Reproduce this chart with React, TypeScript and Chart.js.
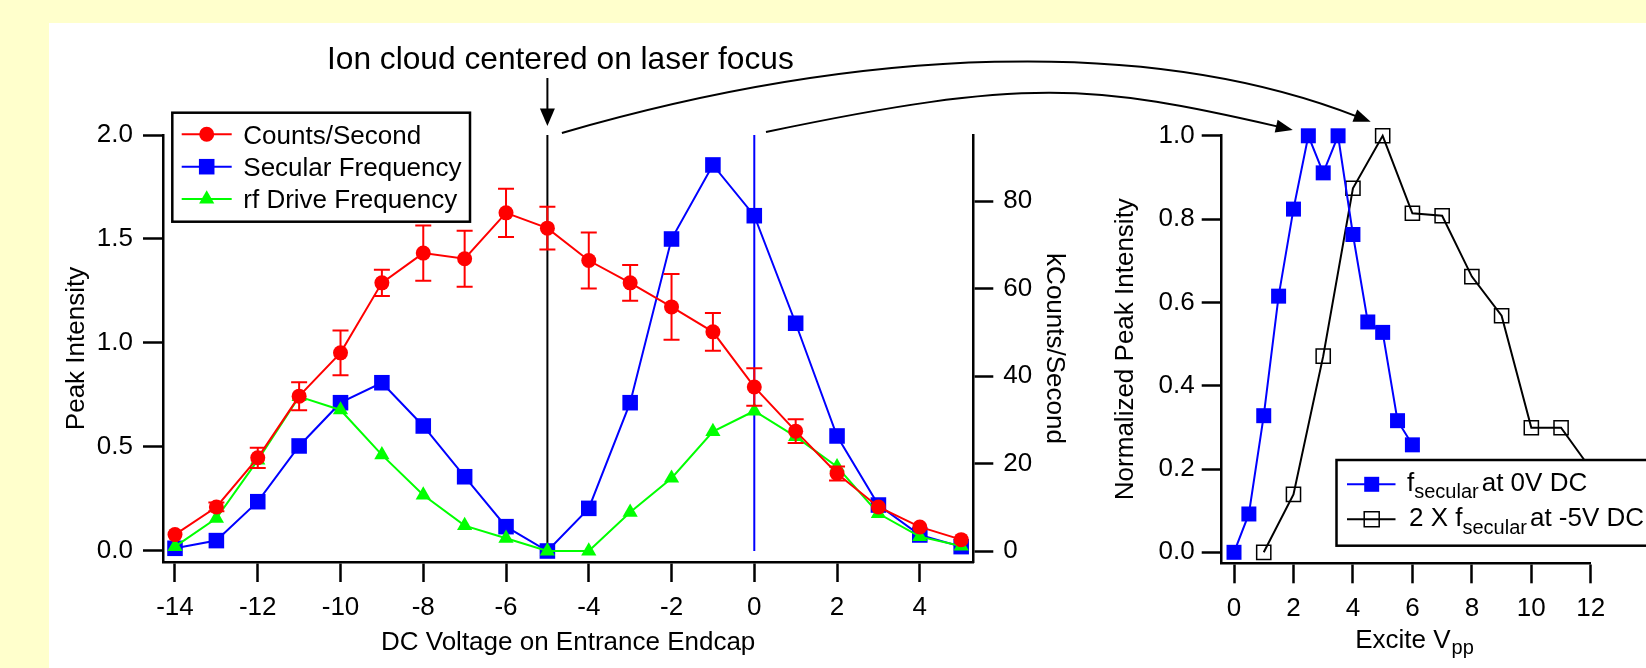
import React, { useEffect, useRef } from 'react';
import { Chart, registerables } from 'chart.js';

Chart.register(...registerables);

// ---------------- data: left panel ----------------
const VOLTAGE = [-14, -13, -12, -11, -10, -9, -8, -7, -6, -5, -4, -3, -2, -1, 0, 1, 2, 3, 4, 5];
const COUNTS_K = [3.75, 10.06, 21.3, 35.4, 45.3, 61.3, 68.1, 66.8, 77.3, 73.8, 66.4, 61.3, 55.8, 50.1, 37.5, 27.4, 17.7, 10.06, 5.5, 2.6];
const COUNTS_ERR = [0, 1.0, 2.3, 3.2, 5.1, 3.0, 6.3, 6.4, 5.5, 4.9, 6.4, 4.1, 7.5, 4.3, 4.3, 2.7, 1.6, 0, 0, 0];
const SECULAR = [0.013, 0.05, 0.237, 0.505, 0.713, 0.809, 0.601, 0.357, 0.117, 0.0, 0.205, 0.713, 1.5, 1.856, 1.612, 1.095, 0.553, 0.221, 0.077, 0.021];
const RF_DRIVE = [0.021, 0.157, 0.437, 0.742, 0.678, 0.462, 0.269, 0.122, 0.061, 0.0, 0.0, 0.186, 0.35, 0.574, 0.673, 0.55, 0.405, 0.18, 0.069, 0.024];
const MARKER_VOLTAGES = [-5, 0];
const LEFT_X_RANGE = [-14.29, 5.293];
const LEFT_Y_RANGE = [-0.0529, 2.0];
const LEFT_K_RANGE = [-2.514, 95.09];
const LEFT_LEGEND = ['Counts/Second', 'Secular Frequency', 'rf Drive Frequency'];

// ---------------- data: right panel ----------------
const EXCITE_BLUE = [0, 0.5, 1, 1.5, 2, 2.5, 3, 3.5, 4, 4.5, 5, 5.5, 6];
const NORM_BLUE = [0, 0.092, 0.328, 0.615, 0.824, 1.0, 0.911, 1.0, 0.763, 0.553, 0.528, 0.316, 0.258];
const EXCITE_BLACK = [1, 2, 3, 4, 5, 6, 7, 8, 9, 10, 11, 12];
const NORM_BLACK = [0, 0.139, 0.471, 0.874, 1.0, 0.814, 0.808, 0.662, 0.568, 0.299, 0.299, 0.2];
const RIGHT_X_RANGE = [-0.414, 12];
const RIGHT_Y_RANGE = [-0.0264, 1.0019];

const TITLE = 'Ion cloud centered on laser focus';

const FONT = '"Liberation Sans", Arial, Helvetica, sans-serif';
const RED = '#ff0000';
const BLUE = '#0000ff';
const GREEN = '#00ff00';
const BLACK = '#000000';

const W = 1646;
const H = 668;
const C1W = 1080;
const C2L = 1080;
const C2W = W - C2L;

const pts = (xs: number[], ys: number[]) => xs.map((x, i) => ({ x, y: ys[i] }));

function drawMarker(ctx: CanvasRenderingContext2D, style: string, x: number, y: number, r: number, fill: string | null, stroke: string | null, lw = 1.5) {
  ctx.beginPath();
  if (style === 'circle') {
    ctx.arc(x, y, r, 0, Math.PI * 2);
  } else if (style === 'rect') {
    const s = r * Math.SQRT1_2;
    ctx.rect(x - s, y - s, 2 * s, 2 * s);
  } else {
    ctx.moveTo(x, y - r);
    ctx.lineTo(x + 0.866 * r, y + 0.5 * r);
    ctx.lineTo(x - 0.866 * r, y + 0.5 * r);
    ctx.closePath();
  }
  if (fill) { ctx.fillStyle = fill; ctx.fill(); }
  if (stroke) { ctx.strokeStyle = stroke; ctx.lineWidth = lw; ctx.stroke(); }
}

function axisCommon(extra: any) {
  return {
    type: 'linear',
    grid: { display: true, drawOnChartArea: false, drawTicks: true, tickLength: 20, tickWidth: 2.5, tickColor: BLACK },
    border: { display: true, color: BLACK, width: 2.5 },
    ...extra,
  };
}

const errorBarPlugin = {
  id: 'errorBars',
  afterDatasetsDraw(chart: any) {
    const ctx = chart.ctx;
    const xs = chart.scales.x;
    const ys = chart.scales.yK;
    ctx.save();
    ctx.strokeStyle = RED;
    ctx.lineWidth = 2;
    VOLTAGE.forEach((v, i) => {
      const e = COUNTS_ERR[i];
      if (!e) return;
      const px = xs.getPixelForValue(v);
      const y1 = ys.getPixelForValue(COUNTS_K[i] + e);
      const y2 = ys.getPixelForValue(COUNTS_K[i] - e);
      ctx.beginPath();
      ctx.moveTo(px, y1); ctx.lineTo(px, y2);
      ctx.moveTo(px - 8, y1); ctx.lineTo(px + 8, y1);
      ctx.moveTo(px - 8, y2); ctx.lineTo(px + 8, y2);
      ctx.stroke();
    });
    ctx.restore();
  },
};

const leftLegendPlugin = {
  id: 'leftLegend',
  afterDraw(chart: any) {
    const ctx = chart.ctx;
    const a = chart.chartArea;
    const bx = a.left + 9.3;
    const by = a.top - 22.3;
    ctx.save();
    ctx.fillStyle = '#fff';
    ctx.fillRect(bx, by, 297.7, 109);
    ctx.strokeStyle = BLACK;
    ctx.lineWidth = 2.5;
    ctx.strokeRect(bx, by, 297.7, 109);
    const styles = [
      { color: RED, shape: 'circle', r: 7.5 },
      { color: BLUE, shape: 'rect', r: 11 },
      { color: GREEN, shape: 'triangle', r: 8.8 },
    ];
    LEFT_LEGEND.forEach((label, i) => {
      const cy = by + 21.6 + i * 32.4;
      const st = styles[i];
      ctx.strokeStyle = st.color;
      ctx.lineWidth = 2;
      ctx.beginPath();
      ctx.moveTo(bx + 9.4, cy); ctx.lineTo(bx + 59.4, cy);
      ctx.stroke();
      drawMarker(ctx, st.shape, bx + 34.4, cy, st.r, st.color, null);
      ctx.fillStyle = BLACK;
      ctx.font = `26px ${FONT}`;
      ctx.textAlign = 'left';
      ctx.textBaseline = 'alphabetic';
      ctx.fillText(label, bx + 71, cy + 9.2);
    });
    ctx.restore();
  },
};

function drawParts(ctx: CanvasRenderingContext2D, parts: { t: string; s: number; dy: number; gap?: number }[], x: number, y: number) {
  let cx = x;
  parts.forEach((p) => {
    ctx.font = `${p.s}px ${FONT}`;
    ctx.fillText(p.t, cx, y + p.dy);
    cx += ctx.measureText(p.t).width + (p.gap || 0);
  });
}

const rightDecorPlugin = {
  id: 'rightDecor',
  afterDraw(chart: any) {
    const ctx = chart.ctx;
    const a = chart.chartArea;
    ctx.save();
    // legend
    const bx = a.left + 114.8;
    const by = a.bottom - 103.3;
    ctx.fillStyle = '#fff';
    ctx.fillRect(bx, by, 400, 85.7);
    ctx.strokeStyle = BLACK;
    ctx.lineWidth = 2.5;
    ctx.strokeRect(bx, by, 400, 85.7);
    const rows = [
      { color: BLUE, fill: BLUE, stroke: null as any, y: by + 24.3, parts: [
        { t: 'f', s: 26, dy: 0 }, { t: 'secular', s: 20, dy: 7.6, gap: 3 }, { t: 'at 0V DC', s: 26, dy: 0 } ] },
      { color: BLACK, fill: null as any, stroke: BLACK, y: by + 59.3, parts: [
        { t: '2 X f', s: 26, dy: 0 }, { t: 'secular', s: 20, dy: 8.3, gap: 3 }, { t: 'at -5V DC', s: 26, dy: 0 } ] },
    ];
    rows.forEach((r) => {
      ctx.strokeStyle = r.color;
      ctx.lineWidth = 2;
      ctx.beginPath();
      ctx.moveTo(bx + 10.5, r.y); ctx.lineTo(bx + 59, r.y);
      ctx.stroke();
      drawMarker(ctx, 'rect', bx + 35.2, r.y, 10.6, r.fill, r.stroke, 1.5);
      ctx.fillStyle = BLACK;
      ctx.textAlign = 'left';
      ctx.textBaseline = 'alphabetic';
      drawParts(ctx, r.parts, bx + 70.5 + (r.color === BLACK ? 2 : 0), r.y + 6.5);
    });
    // x axis title with subscript
    ctx.fillStyle = BLACK;
    ctx.textAlign = 'left';
    ctx.textBaseline = 'alphabetic';
    const cx = (a.left + a.right) / 2;
    drawParts(ctx, [{ t: 'Excite V', s: 26, dy: 0, gap: 1 }, { t: 'pp', s: 20, dy: 6 }], cx - 51, 647.5);
    ctx.restore();
  },
};

function drawOverlay(ctx: CanvasRenderingContext2D, c1: any, c2: any) {
  ctx.clearRect(0, 0, W, H);
  const xs = c1.scales.x;
  const top = c1.chartArea.top;
  const bx = xs.getPixelForValue(MARKER_VOLTAGES[0]);
  const blx = xs.getPixelForValue(MARKER_VOLTAGES[1]);

  ctx.save();
  ctx.fillStyle = BLACK;
  ctx.font = `31.7px ${FONT}`;
  ctx.textAlign = 'center';
  ctx.textBaseline = 'alphabetic';
  ctx.fillText(TITLE, bx + 13, top - 66);

  // down arrow
  ctx.strokeStyle = BLACK;
  ctx.lineWidth = 2;
  ctx.beginPath();
  ctx.moveTo(bx, top - 57); ctx.lineTo(bx, top - 20);
  ctx.stroke();
  ctx.beginPath();
  ctx.moveTo(bx, top - 9); ctx.lineTo(bx - 7.5, top - 26.5); ctx.lineTo(bx + 7.5, top - 26.5); ctx.closePath();
  ctx.fill();

  const xr = c2.scales.x;
  const yr = c2.scales.y;
  const iBlack = NORM_BLACK.indexOf(Math.max(...NORM_BLACK));
  const iBlue = NORM_BLUE.indexOf(Math.max(...NORM_BLUE));
  const blackPeak = { x: C2L + xr.getPixelForValue(EXCITE_BLACK[iBlack]), y: yr.getPixelForValue(NORM_BLACK[iBlack]) };
  const bluePeak = { x: C2L + xr.getPixelForValue(EXCITE_BLUE[iBlue]), y: yr.getPixelForValue(NORM_BLUE[iBlue]) };

  const curves = [
    { p0: { x: bx + 14.5, y: top - 2 }, d0: { x: 300, y: -87 }, p3: { x: blackPeak.x - 12, y: blackPeak.y - 14 }, d3: { x: -220, y: -86 } },
    { p0: { x: blx + 11.7, y: top - 3 }, d0: { x: 260, y: -54.6 }, p3: { x: bluePeak.x - 15.6, y: bluePeak.y - 5.8 }, d3: { x: -200, y: -46 } },
  ];
  curves.forEach((c) => {
    const p1 = { x: c.p0.x + c.d0.x, y: c.p0.y + c.d0.y };
    const p2 = { x: c.p3.x + c.d3.x, y: c.p3.y + c.d3.y };
    const dx = c.p3.x - p2.x;
    const dy = c.p3.y - p2.y;
    const len = Math.hypot(dx, dy);
    const ux = dx / len, uy = dy / len;
    const L = 17, hw = 6.5;
    const base = { x: c.p3.x - ux * L, y: c.p3.y - uy * L };
    ctx.beginPath();
    ctx.moveTo(c.p0.x, c.p0.y);
    ctx.bezierCurveTo(p1.x, p1.y, p2.x, p2.y, base.x + ux * 2, base.y + uy * 2);
    ctx.lineWidth = 2;
    ctx.stroke();
    ctx.beginPath();
    ctx.moveTo(c.p3.x, c.p3.y);
    ctx.lineTo(base.x - uy * hw, base.y + ux * hw);
    ctx.lineTo(base.x + uy * hw, base.y - ux * hw);
    ctx.closePath();
    ctx.fill();
  });
  ctx.restore();
}

export default function App() {
  const c1Ref = useRef<HTMLCanvasElement>(null);
  const c2Ref = useRef<HTMLCanvasElement>(null);
  const ovRef = useRef<HTMLCanvasElement>(null);

  useEffect(() => {
    Chart.defaults.font.family = FONT;
    Chart.defaults.font.size = 26;
    Chart.defaults.color = BLACK;

    const chart1 = new Chart(c1Ref.current as HTMLCanvasElement, {
      type: 'line',
      data: {
        datasets: [
          { label: LEFT_LEGEND[0], data: pts(VOLTAGE, COUNTS_K), yAxisID: 'yK', borderColor: RED, backgroundColor: RED, borderWidth: 2, pointStyle: 'circle', pointRadius: 7.5, pointBorderWidth: 0, order: 0, clip: false },
          { label: LEFT_LEGEND[2], data: pts(VOLTAGE, RF_DRIVE), yAxisID: 'y', borderColor: GREEN, backgroundColor: GREEN, borderWidth: 2, pointStyle: 'triangle', pointRadius: 8.8, pointBorderWidth: 0, order: 1, clip: false },
          { label: LEFT_LEGEND[1], data: pts(VOLTAGE, SECULAR), yAxisID: 'y', borderColor: BLUE, backgroundColor: BLUE, borderWidth: 2, pointStyle: 'rect', pointRadius: 11, pointBorderWidth: 0, order: 2, clip: false },
          { label: 'marker-5', data: [{ x: MARKER_VOLTAGES[0], y: 0 }, { x: MARKER_VOLTAGES[0], y: LEFT_Y_RANGE[1] }], yAxisID: 'y', borderColor: BLACK, borderWidth: 2, pointRadius: 0, order: 3 },
          { label: 'marker0', data: [{ x: MARKER_VOLTAGES[1], y: 0 }, { x: MARKER_VOLTAGES[1], y: LEFT_Y_RANGE[1] }], yAxisID: 'y', borderColor: BLUE, borderWidth: 2, pointRadius: 0, order: 4 },
        ],
      } as any,
      options: {
        responsive: false,
        animation: false,
        devicePixelRatio: 1,
        events: [],
        layout: { padding: { left: 0, top: 135, right: C1W - 973.3 - 100, bottom: 0 } },
        plugins: { legend: { display: false }, tooltip: { enabled: false } },
        scales: {
          x: axisCommon({
            position: 'bottom',
            min: LEFT_X_RANGE[0], max: LEFT_X_RANGE[1],
            afterFit: (s: any) => { s.height = 106; },
            ticks: { stepSize: 2, includeBounds: false, padding: 10, autoSkip: false, maxRotation: 0, font: { size: 26 }, color: BLACK, callback: (v: any) => String(v) },
            title: { display: true, text: 'DC Voltage on Entrance Endcap', color: BLACK, font: { size: 26 }, padding: { top: 0, bottom: 9.4 } },
          }),
          y: axisCommon({
            position: 'left',
            min: LEFT_Y_RANGE[0], max: LEFT_Y_RANGE[1],
            afterFit: (s: any) => { s.width = 163; },
            ticks: { stepSize: 0.5, includeBounds: false, padding: 10, font: { size: 26 }, color: BLACK, callback: (v: any) => Number(v).toFixed(1) },
            title: { display: true, text: 'Peak Intensity', color: BLACK, font: { size: 26 }, padding: { top: 61.4, bottom: 0 } },
          }),
          yK: axisCommon({
            position: 'right',
            min: LEFT_K_RANGE[0], max: LEFT_K_RANGE[1],
            afterFit: (s: any) => { s.width = 100; },
            ticks: { stepSize: 20, includeBounds: false, padding: 10, font: { size: 26 }, color: BLACK, callback: (v: any) => String(Math.round(v)) },
            title: { display: true, text: 'kCounts/Second', color: BLACK, font: { size: 26 }, padding: { top: 3.7, bottom: 0 } },
          }),
        },
      } as any,
      plugins: [errorBarPlugin, leftLegendPlugin],
    });

    const chart2 = new Chart(c2Ref.current as HTMLCanvasElement, {
      type: 'line',
      data: {
        datasets: [
          { label: 'f secular at 0V DC', data: pts(EXCITE_BLUE, NORM_BLUE), borderColor: BLUE, backgroundColor: BLUE, borderWidth: 2, pointStyle: 'rect', pointRadius: 10.6, pointBorderWidth: 0, order: 0, clip: false },
          { label: '2 X f secular at -5V DC', data: pts(EXCITE_BLACK, NORM_BLACK), borderColor: BLACK, backgroundColor: 'rgba(0,0,0,0)', pointBackgroundColor: 'rgba(0,0,0,0)', pointBorderColor: BLACK, borderWidth: 2, pointStyle: 'rect', pointRadius: 10, pointBorderWidth: 1.5, order: 1, clip: false },
        ],
      } as any,
      options: {
        responsive: false,
        animation: false,
        devicePixelRatio: 1,
        events: [],
        layout: { padding: { left: 0, top: 135, right: C2W - (1590.8 - C2L), bottom: 0 } },
        plugins: { legend: { display: false }, tooltip: { enabled: false } },
        scales: {
          x: axisCommon({
            position: 'bottom',
            min: RIGHT_X_RANGE[0], max: RIGHT_X_RANGE[1],
            afterFit: (s: any) => { s.height = H - 563.3; },
            ticks: { stepSize: 2, includeBounds: false, padding: 10, autoSkip: false, maxRotation: 0, font: { size: 26 }, color: BLACK, callback: (v: any) => String(v) },
          }),
          y: axisCommon({
            position: 'left',
            min: RIGHT_Y_RANGE[0], max: RIGHT_Y_RANGE[1],
            afterFit: (s: any) => { s.width = 1221.7 - C2L; },
            ticks: { stepSize: 0.2, includeBounds: false, padding: 7, font: { size: 26 }, color: BLACK, callback: (v: any) => Number(v).toFixed(1) },
            title: { display: true, text: 'Normalized Peak Intensity', color: BLACK, font: { size: 26 }, padding: { top: 30.4, bottom: 0 } },
          }),
        },
      } as any,
      plugins: [rightDecorPlugin],
    });

    const octx = (ovRef.current as HTMLCanvasElement).getContext('2d') as CanvasRenderingContext2D;
    drawOverlay(octx, chart1, chart2);

    return () => {
      chart1.destroy();
      chart2.destroy();
      octx.clearRect(0, 0, W, H);
    };
  }, []);

  return (
    <div style={{ position: 'absolute', left: 0, top: 0, width: W, height: H, background: '#ffffcc', overflow: 'hidden' }}>
      <div style={{ position: 'absolute', left: 49, top: 23, right: 0, bottom: 0, background: '#ffffff' }} />
      <canvas ref={c1Ref} width={C1W} height={H} style={{ position: 'absolute', left: 0, top: 0, width: C1W, height: H }} />
      <canvas ref={c2Ref} width={C2W} height={H} style={{ position: 'absolute', left: C2L, top: 0, width: C2W, height: H }} />
      <canvas ref={ovRef} width={W} height={H} style={{ position: 'absolute', left: 0, top: 0, width: W, height: H, pointerEvents: 'none' }} />
    </div>
  );
}
